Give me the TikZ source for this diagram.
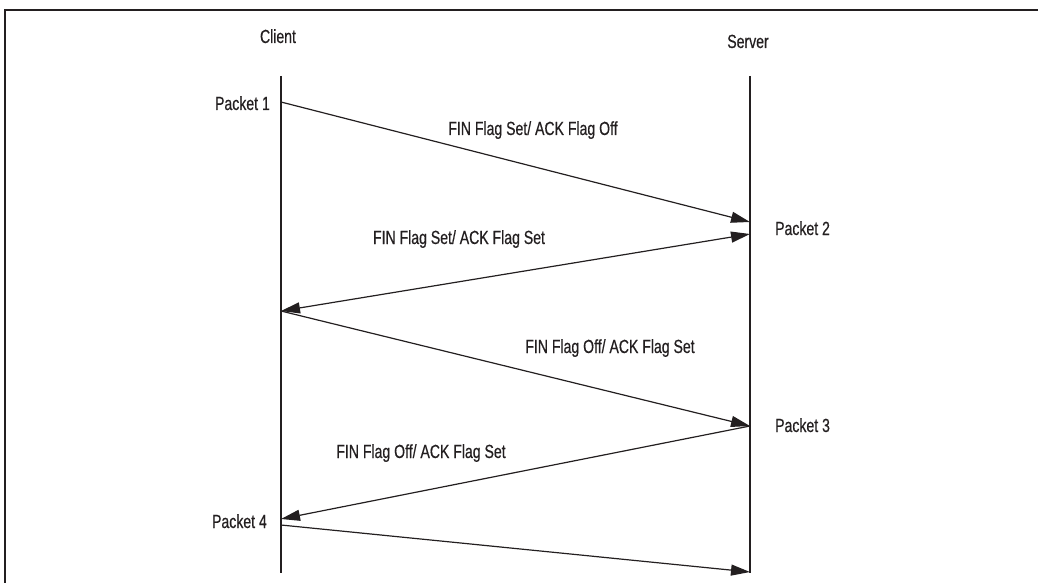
\documentclass[tikz,border=0pt]{standalone}
\usepackage{fontspec}
\setmainfont{Liberation Sans}[FakeStretch=0.74, FakeBold=0.5]
\usetikzlibrary{arrows.meta}
\definecolor{ink}{HTML}{231F20}
\tikzset{
  lifeline/.style={draw=ink, line width=1.5pt},
  msg/.style={draw=ink, line width=1.2pt, -{Triangle[length=19pt,width=11pt]}},
  msgboth/.style={draw=ink, line width=1.2pt, {Triangle[length=19pt,width=11pt]}-{Triangle[length=19pt,width=11pt]}},
  lbl/.style={font=\fontsize{19}{21}\selectfont, text=ink, inner sep=0pt, anchor=base},
  frame/.style={draw=ink, line width=2pt},
}
\begin{document}
\begin{tikzpicture}[x=1pt, y=-1pt]
  \useasboundingbox (0,0) rectangle (1038,583);

  % open frame along the top and left edges
  \coordinate (fbl) at (5,590);
  \coordinate (ftl) at (5,10.5);
  \coordinate (ftr) at (1045,10.5);
  \draw[frame] (fbl) -- (ftl) -- (ftr);

  % column headings
  \node[lbl] (client) at (278,43) {Client};
  \node[lbl] (server) at (748,48) {Server};

  % lifelines
  \coordinate (ctop) at (281,76);
  \coordinate (cbot) at (281,573);
  \coordinate (stop) at (750,76);
  \coordinate (sbot) at (750,573);
  \draw[lifeline] (ctop) -- (cbot);
  \draw[lifeline] (stop) -- (sbot);

  % message end points on the lifelines
  \coordinate (c1) at (281,102);
  \coordinate (s1) at (750,222);
  \coordinate (s2) at (750,234);
  \coordinate (c2) at (281,311);
  \coordinate (s3) at (750,426);
  \coordinate (c3) at (281,519);
  \coordinate (c4) at (281,525);
  \coordinate (s4) at (750,572);

  % messages
  \draw[msg] (c1) -- (s1);
  \draw[msgboth] (c2) -- (s2);
  \draw[msg] (c2) -- (s3);
  \draw[msg] (s3) -- (c3);
  \draw[msg] (c4) -- (s4);

  % packet labels
  \node[lbl, anchor=base east] (p1) at (270,110) {Packet 1};
  \node[lbl, anchor=base west] (p2) at (775,235) {Packet 2};
  \node[lbl, anchor=base west] (p3) at (775,432) {Packet 3};
  \node[lbl, anchor=base east] (p4) at (267,528) {Packet 4};

  % flag labels
  \node[lbl] (f1) at (533,135) {FIN Flag Set/ ACK Flag Off};
  \node[lbl] (f2) at (459,244) {FIN Flag Set/ ACK Flag Set};
  \node[lbl] (f3) at (610,353) {FIN Flag Off/ ACK Flag Set};
  \node[lbl] (f4) at (421,458) {FIN Flag Off/ ACK Flag Set};
\end{tikzpicture}
\end{document}
